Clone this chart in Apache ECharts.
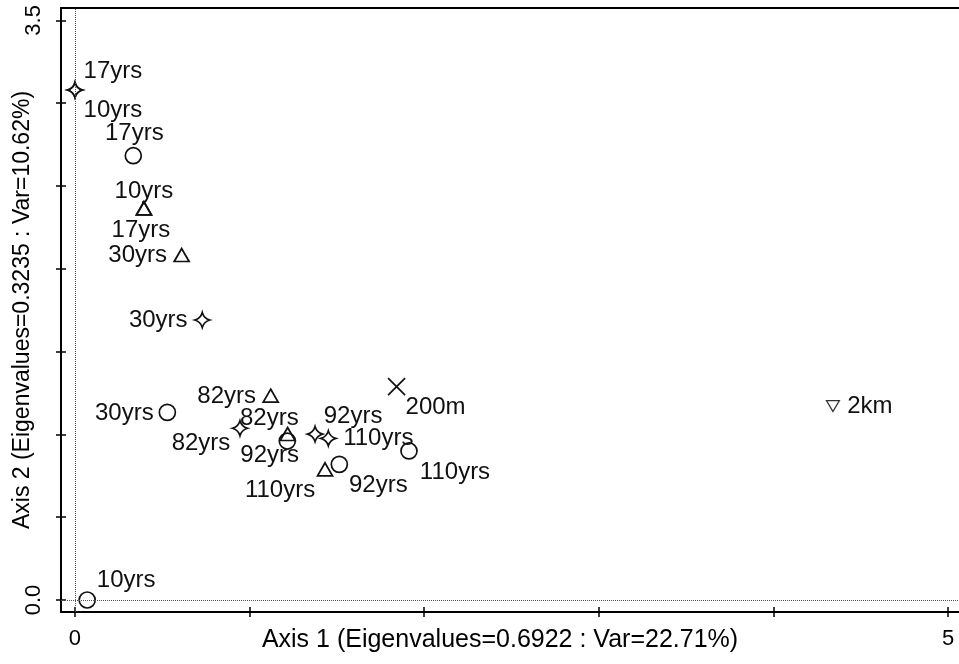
<!DOCTYPE html>
<html>
<head>
<meta charset="utf-8">
<script src="https://cdn.jsdelivr.net/npm/echarts@6/dist/echarts.min.js"></script>
<style>
  html, body { margin: 0; padding: 0; background: #fff; }
  #chart { width: 959px; height: 664px; }
</style>
</head>
<body>
<div id="chart"></div>
<script>
// Site ages shared by the three chronosequence groups
const ages = ['10yrs', '17yrs', '30yrs', '82yrs', '92yrs', '110yrs'];

// Group 1 (circles)
const circleX = [0.070, 0.334, 0.529, 1.216, 1.514, 1.913];
const circleY = [0.000, 2.683, 1.133, 0.960, 0.819, 0.900];

// Group 2 (triangles)
const triangleX = [0.395, 0.395, 0.611, 1.121, 1.218, 1.432];
const triangleY = [2.365, 2.365, 2.083, 1.234, 1.002, 0.789];

// Group 3 (four-point stars)
const starX = [0.000, 0.000, 0.729, 0.945, 1.375, 1.451];
const starY = [3.080, 3.080, 1.691, 1.037, 1.002, 0.976];

// Reference sites
const refNames = ['200m', '2km'];
const refX = [1.842, 4.341];
const refY = [1.288, 1.171];

// Axis ticks and labels
const xTicks = [0, 1, 2, 3, 4, 5];
const xTickLabels = [0, 5];
const yTicks = [0, 0.5, 1, 1.5, 2, 2.5, 3, 3.5];
const yTickLabels = [0, 3.5];

const xTitle = 'Axis 1 (Eigenvalues=0.6922 : Var=22.71%)';
const yTitle = 'Axis 2 (Eigenvalues=0.3235 : Var=10.62%)';

// Label placement (pixel offset of each label's centre from its marker)
const circleLabelOffset = [[39, -20], [1, -22], [-43, 1], [-18, -23], [39, 21], [46, 21]];
const triangleLabelOffset = [[0, -17], [-3, 22], [-44, 0], [-44, 1], [-18, 21], [-45, 21]];
const starLabelOffset = [[38, 20], [38, -19], [-44, 0], [-39, 15], [38, -18], [50, 0]];
const refLabelOffset = [[39, 21], [37, 0]];

const FONT = '"Liberation Sans", Arial, Helvetica, sans-serif';
const INK = '#111';

const X_MIN = -0.08, X_MAX = 5.063;
const Y_MIN = -0.0725, Y_MAX = 3.575;

const STAR = 'path://M0,-10 Q2.2,-2.2 10,0 Q2.2,2.2 0,10 Q-2.2,2.2 -10,0 Q-2.2,-2.2 0,-10 Z';
const CROSS = 'path://M0,0 L10,10 M10,0 L0,10';
const DOWN_TRIANGLE = 'path://M0,0 L10,0 L5,8.66 Z';

function points(xs, ys, names, offsets) {
  return xs.map((x, i) => ({
    value: [x, ys[i]],
    name: names[i],
    label: { offset: offsets[i] }
  }));
}

function scatter(name, data, symbol, size, extra) {
  return Object.assign({
    name: name,
    type: 'scatter',
    data: data,
    symbol: symbol,
    symbolSize: size,
    xAxisIndex: 0,
    yAxisIndex: 0,
    itemStyle: { color: 'transparent', borderColor: INK, borderWidth: 1.7, opacity: 1 },
    label: {
      show: true,
      position: 'inside',
      align: 'center',
      verticalAlign: 'middle',
      formatter: '{b}',
      color: INK,
      opacity: 1,
      fontFamily: FONT,
      fontSize: 24
    },
    emphasis: { disabled: true },
    silent: true
  }, extra || {});
}

const axisText = { color: '#000', fontFamily: FONT, fontSize: 22 };
const gridBox = { left: 61, right: 0, top: 8, bottom: 52, outerBoundsMode: 'none', containLabel: false };
const tickStyle = { color: '#000', width: 1.5 };
const frameLine = { show: true, onZero: false, lineStyle: { color: '#000', width: 2 } };

const chart = echarts.init(document.getElementById('chart'), null, { renderer: 'canvas' });

chart.setOption({
  animation: false,
  backgroundColor: '#fff',
  // Two grids share one rectangle: the second carries the inward half of each tick
  grid: [Object.assign({}, gridBox), Object.assign({}, gridBox)],
  xAxis: [
    {
      gridIndex: 0, type: 'value', min: X_MIN, max: X_MAX, position: 'bottom',
      axisLine: frameLine,
      axisTick: { show: true, length: 5, customValues: xTicks, lineStyle: tickStyle },
      axisLabel: { customValues: xTickLabels, margin: 16, ...axisText },
      splitLine: { show: false },
      name: xTitle, nameLocation: 'middle', nameGap: 16, nameMoveOverlap: false,
      nameTextStyle: { color: '#000', fontFamily: FONT, fontSize: 25, padding: [0, 20, 0, 0] }
    },
    {
      gridIndex: 0, type: 'value', min: X_MIN, max: X_MAX, position: 'top',
      axisLine: frameLine,
      axisTick: { show: false },
      axisLabel: { show: false },
      splitLine: { show: false }
    },
    {
      gridIndex: 1, type: 'value', min: X_MIN, max: X_MAX, position: 'bottom',
      axisLine: { show: false, onZero: false },
      axisTick: { show: true, inside: true, length: 5, customValues: xTicks, lineStyle: tickStyle },
      axisLabel: { show: false },
      splitLine: { show: false }
    }
  ],
  yAxis: [
    {
      gridIndex: 0, type: 'value', min: Y_MIN, max: Y_MAX, position: 'left',
      axisLine: frameLine,
      axisTick: { show: true, length: 5, customValues: yTicks, lineStyle: tickStyle },
      axisLabel: {
        customValues: yTickLabels, rotate: 90, margin: 16,
        formatter: v => Number(v).toFixed(1), ...axisText
      },
      splitLine: { show: false },
      name: yTitle, nameLocation: 'middle', nameRotate: 90, nameGap: 27, nameMoveOverlap: false,
      nameTextStyle: { color: '#000', fontFamily: FONT, fontSize: 23 }
    },
    {
      gridIndex: 1, type: 'value', min: Y_MIN, max: Y_MAX, position: 'left',
      axisLine: { show: false, onZero: false },
      axisTick: { show: true, inside: true, length: 5, customValues: yTicks, lineStyle: tickStyle },
      axisLabel: { show: false },
      splitLine: { show: false }
    }
  ],
  series: [
    scatter('circles', points(circleX, circleY, ages, circleLabelOffset), 'circle', 16, {
      markLine: {
        silent: true,
        symbol: 'none',
        label: { show: false },
        lineStyle: { type: 'dotted', color: '#555', width: 1, opacity: 1 },
        data: [{ xAxis: 0 }, { yAxis: 0 }]
      }
    }),
    scatter('triangles', points(triangleX, triangleY, ages, triangleLabelOffset), 'triangle', [15, 13]),
    scatter('stars', points(starX, starY, ages, starLabelOffset), STAR, 15),
    scatter('200m', points(refX.slice(0, 1), refY.slice(0, 1), refNames.slice(0, 1), refLabelOffset.slice(0, 1)), CROSS, 17),
    scatter('2km', points(refX.slice(1), refY.slice(1), refNames.slice(1), refLabelOffset.slice(1)), DOWN_TRIANGLE, [13, 11], {
      itemStyle: { color: 'transparent', borderColor: '#333', borderWidth: 1.2, opacity: 1 }
    })
  ]
});
</script>
</body>
</html>
